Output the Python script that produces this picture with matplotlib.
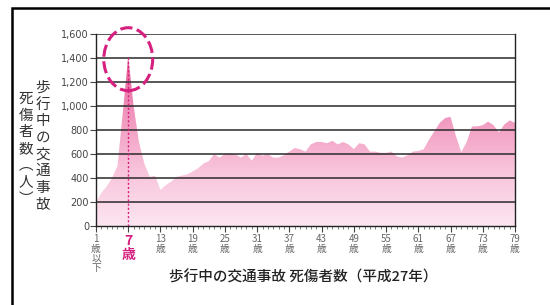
import numpy as np
import matplotlib.pyplot as plt
from matplotlib.colors import LinearSegmentedColormap
from matplotlib.patches import Ellipse, Rectangle

plt.rcParams['font.family'] = ['Noto Sans CJK JP', 'DejaVu Sans']

# ages 1..79 and casualties
ages = list(range(1, 80))
casualties = [
    200, 275, 330, 400, 500, 950, 1415, 1000, 700, 520,
    410, 420, 300, 340, 370, 410, 420, 430, 455, 480,
    520, 540, 600, 570, 600, 605, 595, 570, 600, 545,
    610, 585, 600, 570, 570, 590, 620, 650, 640, 620,
    680, 700, 700, 690, 710, 680, 700, 680, 640, 690,
    680, 620, 620, 610, 610, 620, 580, 570, 590, 620,
    625, 640, 720, 790, 860, 900, 910, 750, 615, 700,
    830, 830, 840, 870, 840, 780, 845, 880, 860,
]
tick_ages = list(range(1, 80, 6))
tick_labels = ['1\n歳\n以\n下'] + [f'{a}\n歳' for a in tick_ages[1:]]
y_ticks = list(range(0, 1601, 200))
peak_age = 7

ylabel_col1 = '歩行中の交通事故'
ylabel_col2 = '死傷者数︵人︶'
xlabel = '歩行中の交通事故 死傷者数（平成27年）'

PINK = '#d6207f'
W, H = 550, 305

fig = plt.figure(figsize=(5.5, 3.05), dpi=100)
fig.patch.set_facecolor('white')

# outer frame
fig.patches.append(Rectangle((12 / W, -0.1), 1.2, 1 - 8 / H + 0.1,
                             transform=fig.transFigure, fill=False,
                             edgecolor='black', linewidth=1.8))

ax = fig.add_axes([96 / W, 1 - 226 / H, 419 / W, 192 / H])

# gradient area fill
x = np.array(ages, dtype=float)
y = np.array(casualties, dtype=float)
poly = ax.fill_between(x, 0, y, facecolor='none', edgecolor='none')
cmap = LinearSegmentedColormap.from_list(
    'pk', ['#fce6f1', '#f8c2da', '#f092bb', '#e2558f'])
grad = np.linspace(0, 1, 256).reshape(-1, 1)
img = ax.imshow(grad, extent=[1, 79, 0, 1450], origin='lower',
                aspect='auto', cmap=cmap, zorder=1)
img.set_clip_path(poly.get_paths()[0], transform=ax.transData)

# horizontal grid lines
for v in y_ticks[1:]:
    ax.axhline(v, color='#2a2a2a', linewidth=1.1, zorder=2)

# peak marker
ax.plot([peak_age, peak_age], [0, casualties[peak_age - 1]], color=PINK,
        linestyle=(0, (1.5, 1.5)), linewidth=1.0, zorder=3)
ax.add_patch(Ellipse((peak_age, 1390), 9.1, 525, fill=False, edgecolor=PINK,
                     linestyle=(0, (4, 1.5)), linewidth=2.2, zorder=4,
                     clip_on=False))

ax.set_xlim(1, 79)
ax.set_ylim(0, 1600)

ax.spines['top'].set_visible(False)
for s in ['left', 'right', 'bottom']:
    ax.spines[s].set_color('#222222')
    ax.spines[s].set_linewidth(1.0)

ax.set_yticks(y_ticks)
ax.set_yticklabels([f'{v:,}' for v in y_ticks], fontsize=7, color='#444444',
                   family=['Liberation Sans Narrow', 'DejaVu Sans'])
ax.tick_params(axis='y', length=4, width=0.8, color='#444444', pad=1)

ax.set_xticks(tick_ages)
ax.set_xticks(ages, minor=True)
ax.set_xticklabels(tick_labels, fontsize=7, color='#666666',
                   linespacing=0.95, va='top')
ax.tick_params(axis='x', which='major', length=4, width=0.8, color='#444444', pad=2)
ax.tick_params(axis='x', which='minor', length=2, width=0.6, color='#666666')
for lbl in ax.get_xticklabels():
    if lbl.get_text().startswith('7\n'):
        lbl.set_color(PINK)
        lbl.set_fontsize(10)
        lbl.set_fontweight('bold')

# vertical y-axis title, two columns, one character at a time
for i, ch in enumerate(ylabel_col1):
    fig.text(43 / W, 1 - (88 + 16.6 * i) / H, ch, fontsize=10.5,
             ha='center', va='center', color='#333333')
for i, ch in enumerate(ylabel_col2):
    fig.text(26 / W, 1 - (99 + 16.6 * i) / H, ch, fontsize=10.5,
             ha='center', va='center', color='#333333')

fig.text(303 / W, 1 - 277 / H, xlabel, fontsize=10.5, fontweight='medium',
         ha='center', va='center', color='#222222')

fig.savefig('out.png', dpi=100)
